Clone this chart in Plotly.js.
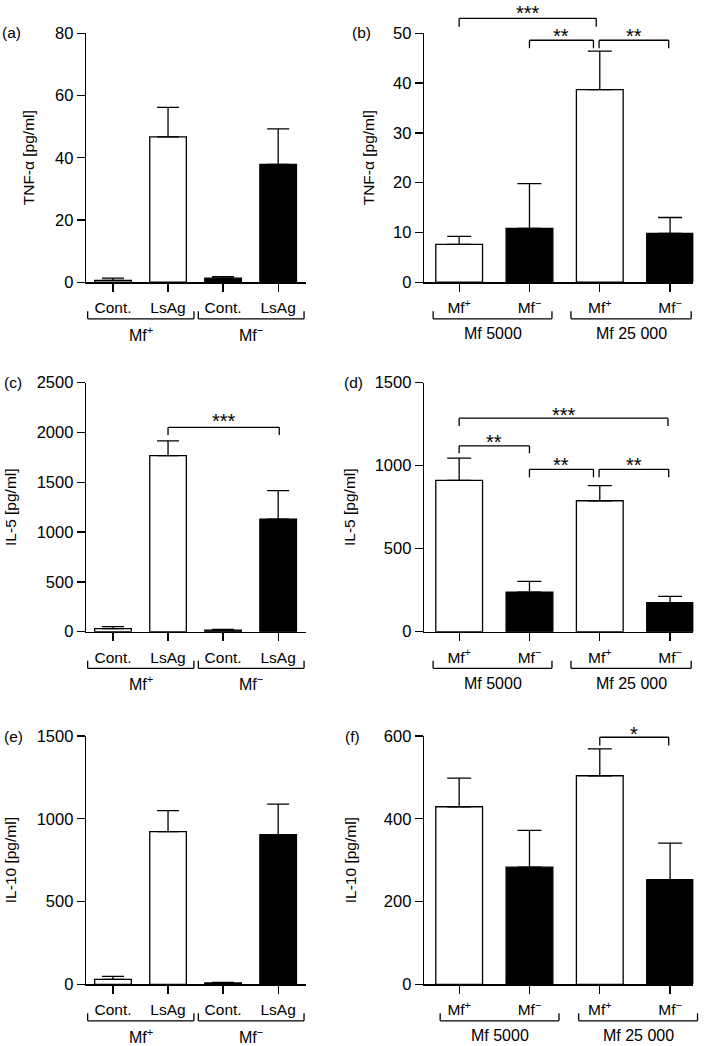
<!DOCTYPE html>
<html><head><meta charset="utf-8">
<script src="https://cdn.plot.ly/plotly-3.0.1.min.js"></script>
<style>html,body{margin:0;padding:0;background:#fff}#chart{width:709px;height:1046px}</style>
</head><body><div id="chart"></div>
<script>
// ---------------- data ----------------
const ticksLeft  = ['Cont.', 'LsAg', 'Cont.', 'LsAg'];
const statusLeft = ['Mf+', 'Mf+', 'Mf−', 'Mf−'];
const groupsLeft = ['Mf<sup>+</sup>', 'Mf<sup>−</sup>'];

const ticksRight  = ['Mf<sup>+</sup>', 'Mf<sup>−</sup>', 'Mf<sup>+</sup>', 'Mf<sup>−</sup>'];
const statusRight = ['Mf+', 'Mf−', 'Mf+', 'Mf−'];
const groupsRight = ['Mf 5000', 'Mf 25 000'];

// TNF-alpha
const tnfA     = [0.6, 46.7, 1.3, 37.9];
const tnfA_sem = [0.7, 9.5, 0.5, 11.4];
const tnfB     = [7.6, 10.8, 38.7, 9.8];
const tnfB_sem = [1.6, 9.0, 7.7, 3.2];
// IL-5
const il5C     = [30, 1767, 15, 1131];
const il5C_sem = [20, 148, 9, 285];
const il5D     = [912, 239, 789, 175];
const il5D_sem = [134, 64, 91, 38];
// IL-10
const il10E     = [30, 922, 8, 904];
const il10E_sem = [18, 127, 4, 185];
const il10F     = [429, 283, 504, 253];
const il10F_sem = [69, 89, 65, 88];

// significance comparisons: [from bar, to bar, label]
const sigB = [[0, 2, '***'], [1, 2, '**'], [2, 3, '**']];
const sigC = [[1, 3, '***']];
const sigD = [[0, 3, '***'], [0, 1, '**'], [1, 2, '**'], [2, 3, '**']];
const sigF = [[2, 3, '*']];

// ---------------- layout helpers ----------------
const W = 709, H = 1046;
const FONT = 'Liberation Sans, Arial, Helvetica, sans-serif';
const fillOf = {'Mf+': 'white', 'Mf−': 'black'};

const colX = [[86 / W, 305.7 / W], [424 / W, 693.3 / W]];
const rowsPx = [[33.3, 282.2], [382.7, 631.7], [736, 984.3]];
const rowY = rowsPx.map(r => [1 - r[1] / H, 1 - r[0] / H]);

const panels = [
  {letter: '(a)', col: 0, row: 0, y: tnfA, e: tnfA_sem, ticks: ticksLeft, status: statusLeft, groups: groupsLeft,
   ymax: 80, dtick: 20, title: 'TNF-α [pg/ml]', standoff: 16, xr: [-0.49, 3.5], capw: 11,
   gb: [[-0.46, 1.47], [1.55, 3.47]], sig: [], sigGeom: []},
  {letter: '(b)', col: 1, row: 0, y: tnfB, e: tnfB_sem, ticks: ticksRight, status: statusRight, groups: groupsRight,
   ymax: 50, dtick: 10, title: 'TNF-α [pg/ml]', standoff: 14, xr: [-0.5, 3.33], capw: 12,
   gb: [[-0.37, 1.32], [1.59, 3.30]], sig: sigB,
   sigGeom: [{h: 53.0, l: 51.3, t: 54.1, x0: 0, x1: -0.05}, {h: 48.6, l: 47.0, t: 49.4, x0: 0, x1: -0.09}, {h: 48.6, l: 47.0, t: 49.4, x0: -0.01, x1: -0.02}]},
  {letter: '(c)', col: 0, row: 1, y: il5C, e: il5C_sem, ticks: ticksLeft, status: statusLeft, groups: groupsLeft,
   ymax: 2500, dtick: 500, title: 'IL-5 [pg/ml]', standoff: 15.5, xr: [-0.49, 3.5], capw: 11,
   gb: [[-0.46, 1.47], [1.55, 3.47]], sig: sigC,
   sigGeom: [{h: 2052, l: 1975, t: 2120, x0: 0, x1: 0.02}]},
  {letter: '(d)', col: 1, row: 1, y: il5D, e: il5D_sem, ticks: ticksRight, status: statusRight, groups: groupsRight,
   ymax: 1500, dtick: 500, title: 'IL-5 [pg/ml]', standoff: 14.5, xr: [-0.5, 3.33], capw: 12,
   gb: [[-0.37, 1.32], [1.59, 3.30]], sig: sigD,
   sigGeom: [{h: 1286, l: 1239, t: 1305, x0: 0, x1: -0.03}, {h: 1120, l: 1075, t: 1144, x0: 0, x1: 0},
             {h: 978, l: 930, t: 1003, x0: 0, x1: -0.09}, {h: 978, l: 930, t: 1003, x0: -0.01, x1: -0.02}]},
  {letter: '(e)', col: 0, row: 2, y: il10E, e: il10E_sem, ticks: ticksLeft, status: statusLeft, groups: groupsLeft,
   ymax: 1500, dtick: 500, title: 'IL-10 [pg/ml]', standoff: 15.5, xr: [-0.49, 3.5], capw: 11,
   gb: [[-0.46, 1.47], [1.55, 3.47]], sig: [], sigGeom: []},
  {letter: '(f)', col: 1, row: 2, y: il10F, e: il10F_sem, ticks: ticksRight, status: statusRight, groups: groupsRight,
   ymax: 600, dtick: 200, title: 'IL-10 [pg/ml]', standoff: 23.5, xr: [-0.5, 3.33], capw: 12,
   gb: [[-0.27, 1.42], [1.70, 3.39]], sig: sigF,
   sigGeom: [{h: 597, l: 577, t: 606, x0: 0, x1: -0.02}]}
];

const letterPos = {'(a)': [0, 33], '(b)': [350, 33], '(c)': [2, 382.5], '(d)': [342, 382.5], '(e)': [2, 736], '(f)': [343, 736]};

const traces = [], shapes = [], annotations = [];
const layout = {
  width: W, height: H, margin: {l: 0, r: 0, t: 0, b: 0},
  paper_bgcolor: 'white', plot_bgcolor: 'white', showlegend: false,
  font: {family: FONT, size: 15, color: 'black'},
  bargap: 0
};

panels.forEach((p, k) => {
  const n = k + 1;
  const xid = n === 1 ? 'x' : 'x' + n, yid = n === 1 ? 'y' : 'y' + n;
  const xs = p.y.map((_, i) => i);
  traces.push({
    type: 'bar', x: xs, y: p.y, xaxis: xid, yaxis: yid, width: 0.665,
    marker: {color: p.status.map(s => fillOf[s]), line: {color: 'black', width: 1.3}},
    error_y: {type: 'data', symmetric: false, array: p.e, arrayminus: p.e.map(() => 0),
              color: 'black', thickness: 1.3, width: p.capw},
    hoverinfo: 'none', cliponaxis: false
  });
  const axCommon = {showgrid: false, zeroline: false, showline: true, linecolor: 'black', linewidth: 1.3,
                    ticks: 'outside', ticklen: 8, tickwidth: 1.3, tickcolor: 'black', fixedrange: true};
  layout['xaxis' + (n === 1 ? '' : n)] = Object.assign({}, axCommon, {
    domain: colX[p.col], anchor: yid, range: p.xr, tickmode: 'array', tickvals: xs, ticktext: p.ticks,
    tickfont: {size: 15.5}, ticklabelstandoff: 3
  });
  layout['yaxis' + (n === 1 ? '' : n)] = Object.assign({}, axCommon, {
    domain: rowY[p.row], anchor: xid, range: [0, p.ymax], dtick: p.dtick, tickfont: {size: 16.5},
    title: {text: p.title, font: {size: 15.5}, standoff: p.standoff}, automargin: false
  });
  const xd = xid + ' domain', yd = yid + ' domain';
  const dx = v => (v - p.xr[0]) / (p.xr[1] - p.xr[0]);
  const dy = v => v / p.ymax;
  const line = (x0, y0, x1, y1) => shapes.push({type: 'line', xref: xd, yref: yd, x0, y0, x1, y1,
                                                line: {color: 'black', width: 1.3}});
  // group brackets under the axis
  p.gb.forEach((g, gi) => {
    const a = dx(g[0]), b = dx(g[1]);
    line(a, -0.117, a, -0.147); line(a, -0.147, b, -0.147); line(b, -0.147, b, -0.117);
    annotations.push({xref: xd, yref: yd, x: (a + b) / 2, y: -0.207, text: p.groups[gi], showarrow: false,
                      font: {size: 16}, xanchor: 'center', yanchor: 'middle'});
  });
  // significance brackets
  p.sig.forEach((s, si) => {
    const g = p.sigGeom[si];
    const a = dx(s[0] + g.x0), b = dx(s[1] + g.x1);
    line(a, dy(g.l), a, dy(g.h)); line(a, dy(g.h), b, dy(g.h)); line(b, dy(g.h), b, dy(g.l));
    annotations.push({xref: xd, yref: yd, x: (a + b) / 2, y: dy(g.t), text: s[2], showarrow: false,
                      font: {size: 20}, xanchor: 'center', yanchor: 'middle'});
  });
  const lp = letterPos[p.letter];
  annotations.push({xref: 'paper', yref: 'paper', x: lp[0] / W, y: 1 - lp[1] / H, text: p.letter,
                    showarrow: false, xanchor: 'left', yanchor: 'middle', font: {size: 15.5}});
});

layout.shapes = shapes;
layout.annotations = annotations;
Plotly.newPlot('chart', traces, layout, {staticPlot: true, displayModeBar: false});
</script>
</body></html>
